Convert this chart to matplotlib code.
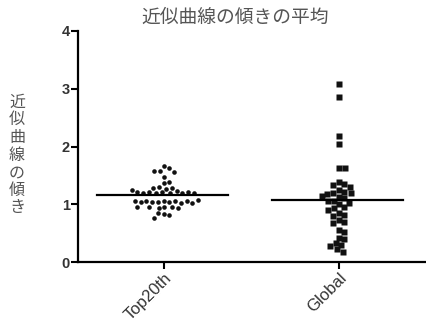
import numpy as np
import matplotlib
matplotlib.use('Agg')
import matplotlib.pyplot as plt

plt.rcParams['font.family'] = ['Liberation Sans', 'Noto Sans CJK JP']

# data
groups = ['Top20th', 'Global']
top20 = [1.66, 1.62, 1.58, 1.58, 1.56, 1.48, 1.36, 1.38, 1.30, 1.29, 1.28, 1.27,
         1.23, 1.22, 1.21, 1.20, 1.19, 1.20, 1.22, 1.21, 1.19, 1.20, 1.24,
         1.05, 1.04, 1.04, 1.05, 1.04, 1.06, 1.03, 1.04, 1.05, 1.06, 1.03, 1.07,
         0.95, 0.94, 0.95, 0.95, 0.96, 0.94,
         0.83, 0.82, 0.84, 0.76]
glob = [3.08, 2.85, 2.18, 2.05, 1.62, 1.62,
        1.38, 1.35, 1.33, 1.30,
        1.25, 1.22, 1.20, 1.18, 1.20, 1.15, 1.12, 1.10,
        1.06, 1.05, 1.03, 1.00,
        0.95, 0.93, 0.90,
        0.85, 0.82, 0.80,
        0.72, 0.70, 0.68,
        0.55, 0.52, 0.42, 0.40,
        0.33, 0.30, 0.28, 0.22, 0.18]
yticks = [0, 1, 2, 3, 4]
title = '近似曲線の傾きの平均'
ylabel = '近似曲線の傾き'


def swarm(vals, d, xs, ys):
    # simple beeswarm: place each point as near the centre as possible
    placed = []
    out = []
    for v in vals:
        y = v * ys
        cands = [0.0]
        for px, py in placed:
            dy = abs(py - y)
            if dy < d:
                dx = np.sqrt(d * d - dy * dy)
                cands += [px + dx, px - dx]
        cands.sort(key=abs)
        for c in cands:
            if all((c - px) ** 2 + (y - py) ** 2 >= d * d - 1e-6 for px, py in placed):
                placed.append((c, y))
                out.append(c / xs)
                break
    return np.array(out)


fig = plt.figure(figsize=(4.26, 3.35), dpi=100)
ax = fig.add_axes([78 / 426, 1 - 262 / 335, 348 / 426, (262 - 31) / 335])

xs = 174.0   # px per x unit
ys = 57.5    # px per y unit
styles = [dict(marker='o', ms=3.3, d=5.8), dict(marker='s', ms=3.9, d=6.0)]
for i, (vals, st) in enumerate(zip([top20, glob], styles)):
    vals = np.array(vals)
    off = swarm(vals, st['d'], xs, ys)
    ax.plot(i + off, vals, ls='none', color='#111111', mec='none',
            marker=st['marker'], ms=st['ms'])
    m = vals.mean()
    ax.plot([i - 0.38, i + 0.37], [m, m], color='black', lw=1.6)

ax.set_xlim(-0.49, 1.5)
ax.set_ylim(0, 4)
ax.set_xticks(range(len(groups)))
ax.set_xticklabels(groups, rotation=45, ha='right', rotation_mode='anchor',
                   fontsize=12, color='#333333')
ax.set_yticks(yticks)
ax.set_yticklabels([str(t) for t in yticks], fontsize=10.5, color='#333333',
                   fontweight='bold')
for s in ['top', 'right']:
    ax.spines[s].set_visible(False)
for s in ['left', 'bottom']:
    ax.spines[s].set_linewidth(1.6)
ax.tick_params(width=1.5, length=5, direction='out', pad=1)

fig.text(235 / 426, 1 - 17 / 335, title, ha='center', va='center',
         fontsize=13.5, color='#555555', family=['Noto Sans CJK JP'])
fig.text(17 / 426, 1 - 155 / 335, '\n'.join(ylabel), ha='center', va='center',
         fontsize=11.5, color='#555555', family=['Noto Sans CJK JP'],
         linespacing=1.05)

fig.savefig('out.png', dpi=100)
